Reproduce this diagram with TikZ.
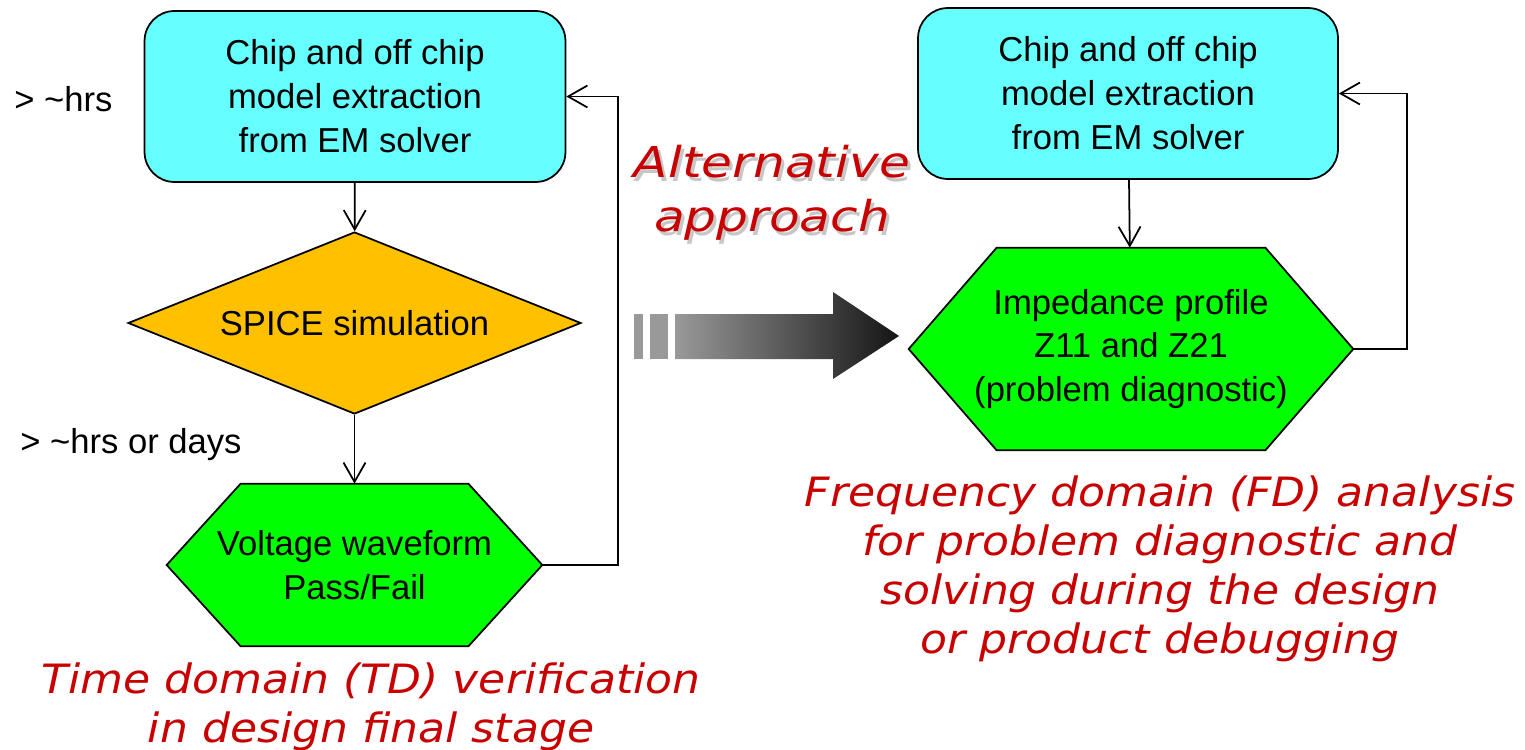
\documentclass[tikz,border=0pt]{standalone}
\usepackage{fontspec}
\setmainfont{Liberation Sans}
\newfontfamily\notefont[FakeStretch=1.09]{DejaVu Sans}
\newfontfamily\altfont[FakeStretch=1.18]{DejaVu Sans}
\usepackage{xcolor}
\usepackage{tikz}
\usetikzlibrary{arrows.meta,shapes.geometric,backgrounds}
\definecolor{emcyan}{HTML}{66FFFF}
\definecolor{spiceorg}{HTML}{FFC000}
\definecolor{resgrn}{HTML}{00FF00}
\definecolor{notered}{RGB}{200,0,0}
\tikzset{
  blk/.style={draw,line width=1pt,fill=emcyan,rounded corners=0.6cm,minimum width=8.42cm,minimum height=3.42cm,align=center,font=\fontsize{19.7}{25}\selectfont},
  dec/.style={draw,line width=1pt,fill=spiceorg,diamond,aspect=2.49,minimum width=9.06cm,minimum height=3.64cm,inner sep=0pt,font=\fontsize{19.7}{25}\selectfont},
  hx/.style={inner sep=0pt,align=center,font=\fontsize{19.7}{25}\selectfont},
  hxline/.style={fill=resgrn,draw=black,line width=1pt,line join=miter},
  fl/.style={line width=1pt,-{Straight Barb[length=11pt,width=12.5pt]}},
  lbl/.style={inner sep=0pt,font=\fontsize{19.7}{25}\selectfont},
  note/.style={notered,align=center,inner sep=0pt,font=\notefont\itshape\fontsize{23}{28}\selectfont},
  alt/.style={align=center,inner sep=0pt,font=\altfont\itshape\fontsize{24.2}{30.7}\selectfont}
}
\newcommand{\emtxt}{Chip and off chip\\model extraction\\from EM solver}
\newcommand{\hexback}[2]{\draw[hxline] (#1.west) -- ([xshift=#2]#1.north west) -- ([xshift=-#2]#1.north east) -- (#1.east) -- ([xshift=-#2]#1.south east) -- ([xshift=#2]#1.south west) -- cycle;}

\begin{document}
\begin{tikzpicture}[x=0.02cm,y=-0.02cm]
\useasboundingbox (0,0) rectangle (1525,750);
\node[blk] (emL) at (355,96.5) {\emtxt};
\node[dec] (spice) at (354.5,323) {SPICE simulation};
\node[hx,minimum width=7.5cm,minimum height=3.24cm] (wave) at (354.5,565) {Voltage waveform\\Pass/Fail};
\node[lbl,anchor=base west] (tEM) at (14,112) {> \textasciitilde hrs};
\node[lbl,anchor=base west] (tSim) at (20,453) {> \textasciitilde hrs or days};
\coordinate (backL) at (618,565);
\draw[fl] (emL) -- (spice);
\draw[fl] (spice) -- (wave);
\draw[fl] (wave.east) -- (backL) |- (emL.east);
\node[note,anchor=north] (tdnote) at (371,662) {Time domain (TD) verification\\in design final stage};

\node[blk,minimum width=8.4cm] (emR) at (1128,93.5) {\emtxt};
\node[hx,minimum width=8.88cm,minimum height=4.04cm] (zprof) at (1131,349) {Impedance profile\\Z11 and Z21\\(problem diagnostic)};
\coordinate (backR) at (1407,349);
\draw[fl] (emR) -- (zprof);
\draw[fl] (zprof.east) -- (backR) |- (emR.east);
\node[note,anchor=north] (fdnote) at (1160,475) {Frequency domain (FD) analysis\\for problem diagnostic and\\solving during the design\\or product debugging};

\begin{pgfonlayer}{background}
\hexback{wave}{1.48cm}
\hexback{zprof}{1.76cm}
\end{pgfonlayer}

\node[alt,text=black!22,anchor=north] (altsh) at (775,149) {Alternative\\approach};
\node[alt,text=notered,anchor=north] (altxt) at (772,145) {Alternative\\approach};
\fill[black!40] (634,314) rectangle (643,359);
\fill[black!40] (650,314) rectangle (668,359);
\shade[left color=black!40,right color=black!92] (675,314) -- (833,314) -- (833,292) -- (899,336) -- (833,379) -- (833,359) -- (675,359) -- cycle;
\end{tikzpicture}
\end{document}
